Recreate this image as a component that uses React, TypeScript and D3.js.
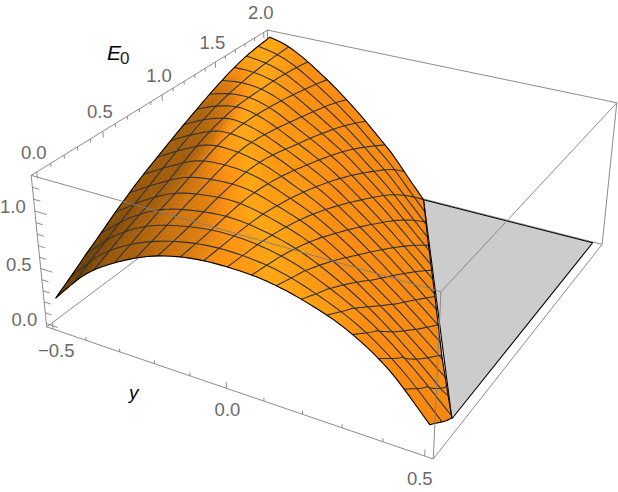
import React from "react";
import * as d3 from "d3";

// axis ranges of the padded bounding box
const xBox = [-0.04, 2.04];
const yBox = [-0.52, 0.52];
const zBox = [-0.03, 1.3];
// camera calibration: [x,y,z] box corner -> where it lands in the frame
const cameraAnchors: [number, number, number, number, number][] = [
  [xBox[0], yBox[0], zBox[0], 47, 327],
  [xBox[0], yBox[1], zBox[0], 434, 459],
  [xBox[1], yBox[1], zBox[0], 602, 244],
  [xBox[1], yBox[0], zBox[0], 269, 160],
  [xBox[0], yBox[0], zBox[1], 31, 175],
  [xBox[0], yBox[1], zBox[1], 440, 292],
  [xBox[1], yBox[1], zBox[1], 617, 103],
  [xBox[1], yBox[0], zBox[1], 268, 30],
];

// E0. Rows: x; columns: fraction of the way from y=-0.5 to the zero edge
const xKnots = [0, 0.25, 0.6, 0.9, 1.2, 1.5, 1.75, 2];
const e0Rows = [
  [0.22, 0.53, 0.73, 0.87, 0.945, 0.965, 0.945, 0.87, 0.745, 0.53, 0.19],
  [0.41, 0.67, 0.835, 0.92, 0.96, 0.945, 0.875, 0.74, 0.56, 0.305, 0],
  [0.66, 0.82, 0.95, 1.0, 1.0, 0.925, 0.82, 0.66, 0.46, 0.24, 0],
  [0.84, 0.97, 1.07, 1.07, 1.01, 0.9, 0.775, 0.61, 0.42, 0.215, 0],
  [1.0, 1.09, 1.13, 1.08, 0.98, 0.87, 0.74, 0.575, 0.395, 0.2, 0],
  [1.14, 1.16, 1.14, 1.07, 0.96, 0.845, 0.715, 0.555, 0.385, 0.195, 0],
  [1.225, 1.2, 1.15, 1.06, 0.95, 0.83, 0.695, 0.54, 0.38, 0.19, 0],
  [1.265, 1.225, 1.15, 1.05, 0.94, 0.815, 0.68, 0.53, 0.375, 0.185, 0],
];
// where the surface reaches the floor (or the y=0.5 side)
const edgeX = [0, 0.23, 0.64, 1.157, 1.626, 2];
const edgeY = [0.5, 0.5, 0.379, 0.235, 0.103, 0];
// grey floor plate, [x,y]
const plateCorners = [[0.23, 0.5], [2, 0.5], [2, 0]];

const xMajor = [0, 0.5, 1, 1.5, 2];
const yMajor = [-0.5, 0, 0.5];
const zMajor = [0, 0.5, 1];
const xMinor = [0.1, 0.2, 0.3, 0.4, 0.6, 0.7, 0.8, 0.9, 1.1, 1.2, 1.3, 1.4, 1.6, 1.7, 1.8, 1.9];
const yMinor = [-0.4, -0.3, -0.2, -0.1, 0.1, 0.2, 0.3, 0.4];
const zMinor = [0.1, 0.2, 0.3, 0.4, 0.6, 0.7, 0.8, 0.9, 1.1, 1.2];
const xLabels = ["0.0", "0.5", "1.0", "1.5", "2.0"];
const yLabels = ["\u22120.5", "0.0", "0.5"];
const zLabels = ["0.0", "0.5", "1.0"];
const yLabelNudge = [[3, 28], [1, 28], [-5, 29]];

const slopeStops = [-4, -2, -0.6, 0, 0.5, 1, 1.4, 3];
const slopeColors = ["#f5850c", "#fb8c0e", "#ffa613", "#ff9211", "#d87a0e", "#bd6a0c", "#a85f0a", "#6e3f02"];
const MESH = 16;

function solve(A: number[][], b: number[]) {
  const n = b.length;
  const M = A.map((r, i) => [...r, b[i]]);
  for (let c = 0; c < n; c++) {
    let p = c;
    for (let r = c + 1; r < n; r++) if (Math.abs(M[r][c]) > Math.abs(M[p][c])) p = r;
    [M[c], M[p]] = [M[p], M[c]];
    for (let r = 0; r < n; r++) {
      if (r === c) continue;
      const f = M[r][c] / M[c][c];
      for (let k = c; k <= n; k++) M[r][k] -= f * M[c][k];
    }
  }
  return M.map((r, i) => r[n] / r[i]);
}

function fitCamera() {
  const rows: number[][] = [];
  const rhs: number[] = [];
  cameraAnchors.forEach(([x, y, z, u, v]) => {
    rows.push([x, y, z, 1, 0, 0, 0, 0, -u * x, -u * y, -u * z]);
    rhs.push(u);
    rows.push([0, 0, 0, 0, x, y, z, 1, -v * x, -v * y, -v * z]);
    rhs.push(v);
  });
  const n = 11;
  const N = d3.range(n).map((i) => d3.range(n).map((j) => d3.sum(rows, (r) => r[i] * r[j])));
  const t = d3.range(n).map((i) => d3.sum(rows, (r, k) => r[i] * rhs[k]));
  return solve(N, t);
}
const cam = fitCamera();
const depth = (x: number, y: number, z: number) => cam[8] * x + cam[9] * y + cam[10] * z + 1;
const project = (x: number, y: number, z: number): [number, number] => {
  const w = depth(x, y, z);
  return [
    (cam[0] * x + cam[1] * y + cam[2] * z + cam[3]) / w,
    (cam[4] * x + cam[5] * y + cam[6] * z + cam[7]) / w,
  ];
};

const xIndex = d3.scaleLinear().domain(xKnots).range(xKnots.map((_, i) => i)).clamp(true);
const edgeOf = d3.scaleLinear().domain(edgeX).range(edgeY).clamp(true);
const edgeInverse = d3.scaleLinear().domain(edgeY.slice(1).reverse()).range(edgeX.slice(1).reverse()).clamp(true);

const cr = (p0: number, p1: number, p2: number, p3: number, t: number) =>
  0.5 * (2 * p1 + (p2 - p0) * t + (2 * p0 - 5 * p1 + 4 * p2 - p3) * t * t + (3 * p1 - p0 - 3 * p2 + p3) * t * t * t);
// value at a knot, continued straight past the ends of the table
const at = (i: number, j: number): number => {
  const R = e0Rows.length - 1;
  const C = e0Rows[0].length - 1;
  if (i < 0) return 2 * at(0, j) - at(1, j);
  if (i > R) return 2 * at(R, j) - at(R - 1, j);
  if (j < 0) return 2 * at(i, 0) - at(i, 1);
  if (j > C) return 2 * at(i, C) - at(i, C - 1);
  return e0Rows[i][j];
};
function e0At(x: number, v: number) {
  const fx = xIndex(x);
  const fv = v * (e0Rows[0].length - 1);
  const i = Math.min(Math.floor(fx), e0Rows.length - 2);
  const j = Math.min(Math.floor(fv), e0Rows[0].length - 2);
  const tx = fx - i;
  const tv = fv - j;
  const col = [-1, 0, 1, 2].map((di) => cr(at(i + di, j - 1), at(i + di, j), at(i + di, j + 1), at(i + di, j + 2), tv));
  return Math.max(0, cr(col[0], col[1], col[2], col[3], tx));
}
const yOf = (x: number, v: number) => -0.5 + v * (edgeOf(x) + 0.5);
const surf = (x: number, v: number) => project(x, yOf(x, v), e0At(x, v));
const colorOf = d3.scaleLinear<string>().domain(slopeStops).range(slopeColors).clamp(true);

function slopeAt(x: number, v: number) {
  const d = 0.01;
  const v0 = Math.max(0, v - d);
  const v1 = Math.min(1, v + d);
  return (e0At(x, v1) - e0At(x, v0)) / (yOf(x, v1) - yOf(x, v0));
}

const line = d3.line();
const path = (pts: [number, number][]) => line(pts) as string;

const FINE = 56;
const cells: { d: string; c: string; w: number }[] = [];
for (let i = 0; i < FINE; i++) {
  for (let j = 0; j < FINE; j++) {
    const x0 = (2 * i) / FINE;
    const x1 = (2 * (i + 1)) / FINE;
    const v0 = j / FINE;
    const v1 = (j + 1) / FINE;
    const xm = (x0 + x1) / 2;
    const vm = (v0 + v1) / 2;
    cells.push({
      d: path([surf(x0, v0), surf(x1, v0), surf(x1, v1), surf(x0, v1)]) + "Z",
      c: colorOf(slopeAt(xm, vm)),
      w: depth(xm, yOf(xm, vm), e0At(xm, vm)),
    });
  }
}
const nearW = depth(xBox[0], yBox[1], zBox[1]);
const farW = depth(xBox[1], yBox[0], zBox[0]);
cells.sort((a, b) => (nearW > farW ? a.w - b.w : b.w - a.w));

const STEPS = d3.range(0, 61).map((k) => k / 60);
const meshX = d3.range(1, MESH).map((i) => (2 * i) / MESH);
const meshY = d3.range(1, MESH).map((j) => -0.5 + j / MESH);
const xLine = (x: number) => path(STEPS.map((v) => surf(x, v)));
const yLine = (y: number) => {
  const xEnd = y >= 0.5 ? 2 : Math.min(2, edgeInverse(y));
  return path(
    STEPS.map((t) => {
      const x = t * xEnd;
      const v = Math.min(1, (y + 0.5) / (edgeOf(x) + 0.5));
      return project(x, y, e0At(x, v));
    })
  );
};
const outline =
  path([
    ...STEPS.map((v) => surf(0, v)),
    ...STEPS.map((t) => surf(2 * t, 1)),
    ...STEPS.map((v) => surf(2, 1 - v)),
    ...STEPS.map((t) => surf(2 * (1 - t), 0)),
  ]) + "Z";
const plate = path(plateCorners.map(([x, y]) => project(x, y, 0))) + "Z";

const [x0, x1] = xBox;
const [y0, y1] = yBox;
const [z0, z1] = zBox;
const P = (a: number, b: number, c: number) => project(a, b, c);
const seg = (a: [number, number], b: [number, number]) => path([a, b]);
const backEdges = [
  seg(P(x0, y0, z0), P(x1, y0, z0)),
  seg(P(x1, y0, z0), P(x1, y1, z0)),
  seg(P(x1, y0, z0), P(x1, y0, z1)),
  seg(P(x1, y0, z1), P(x1, y1, z1)),
  seg(P(x1, y1, z1), P(x1, y1, z0)),
  seg(P(x0, y0, z1), P(x1, y0, z1)),
  seg(P(x0, y0, z0), P(x0, y0, z1)),
  seg(P(x0, y0, z0), P(x0, y1, z0)),
  seg(P(x0, y1, z0), P(x1, y1, z0)),
];
const frontEdges = [
  seg(P(x0, y0, z1), P(x0, y1, z1)),
  seg(P(x0, y1, z1), P(x1, y1, z1)),
  seg(P(x0, y1, z1), P(x0, y1, z0)),
];

const TICK = "#7f7f7f";
const LABEL = "#6a6a6a";
const font = "'Liberation Sans', Arial, sans-serif";

export default function App() {
  return (
    <svg
      width={618}
      height={492}
      viewBox="0 0 618 492"
      style={{ position: "absolute", left: 0, top: 0, background: "#fff" }}
      fontFamily={font}
    >
      <g fill="none" stroke={TICK} strokeWidth={0.9}>
        {backEdges.map((d, i) => <path key={i} d={d} />)}
      </g>
      <path d={plate} fill="#cccccc" stroke="#000" strokeWidth={1.1} strokeLinejoin="round" />
      <g>
        {cells.map((c, i) => <path key={i} d={c.d} fill={c.c} stroke={c.c} strokeWidth={0.6} />)}
      </g>
      <g fill="none" stroke="#333" strokeWidth={1.1}>
        {meshX.map((x) => <path key={x} d={xLine(x)} />)}
        {meshY.map((y) => <path key={y} d={yLine(y)} />)}
      </g>
      <path d={outline} fill="none" stroke="#000" strokeWidth={1.1} strokeLinejoin="round" />
      <g fill="none" stroke={TICK} strokeWidth={0.9}>
        {frontEdges.map((d, i) => <path key={i} d={d} />)}
      </g>
      <g stroke={TICK} strokeWidth={0.9}>
        {xMajor.map((x) => <path key={x} d={seg(P(x, y0, z1), P(x, y0, z1 - 0.055))} />)}
        {xMinor.map((x) => <path key={x} d={seg(P(x, y0, z1), P(x, y0, z1 - 0.03))} />)}
        {yMajor.map((y) => <path key={y} d={seg(P(x0, y, z0), P(x0, y, z0 + 0.055))} />)}
        {yMinor.map((y) => <path key={y} d={seg(P(x0, y, z0), P(x0, y, z0 + 0.03))} />)}
        {zMajor.map((z) => <path key={z} d={seg(P(x0, y0, z), P(x0, y0 + 0.035, z))} />)}
        {zMinor.map((z) => <path key={z} d={seg(P(x0, y0, z), P(x0, y0 + 0.02, z))} />)}
      </g>
      <g fill={LABEL} fontSize={18.5} textAnchor="middle">
        {xMajor.map((x, i) => {
          const [a, b] = P(x, y0, z1);
          return <text key={x} x={a - 3} y={b - 13}>{xLabels[i]}</text>;
        })}
        {zMajor.map((z, i) => {
          const [a, b] = P(x0, y0, z);
          return <text key={z} x={a - 22} y={b + 2}>{zLabels[i]}</text>;
        })}
        {yMajor.map((y, i) => {
          const [a, b] = P(x0, y, z0);
          return <text key={y} x={a + yLabelNudge[i][0]} y={b + yLabelNudge[i][1]}>{yLabels[i]}</text>;
        })}
      </g>
      <text x={107} y={60} fontSize={21} fontStyle="italic" fill="#000">E</text>
      <text x={120} y={64} fontSize={17} fill="#222">0</text>
      <text x={129} y={399} fontSize={19} fontStyle="italic" fill="#000">y</text>
    </svg>
  );
}
